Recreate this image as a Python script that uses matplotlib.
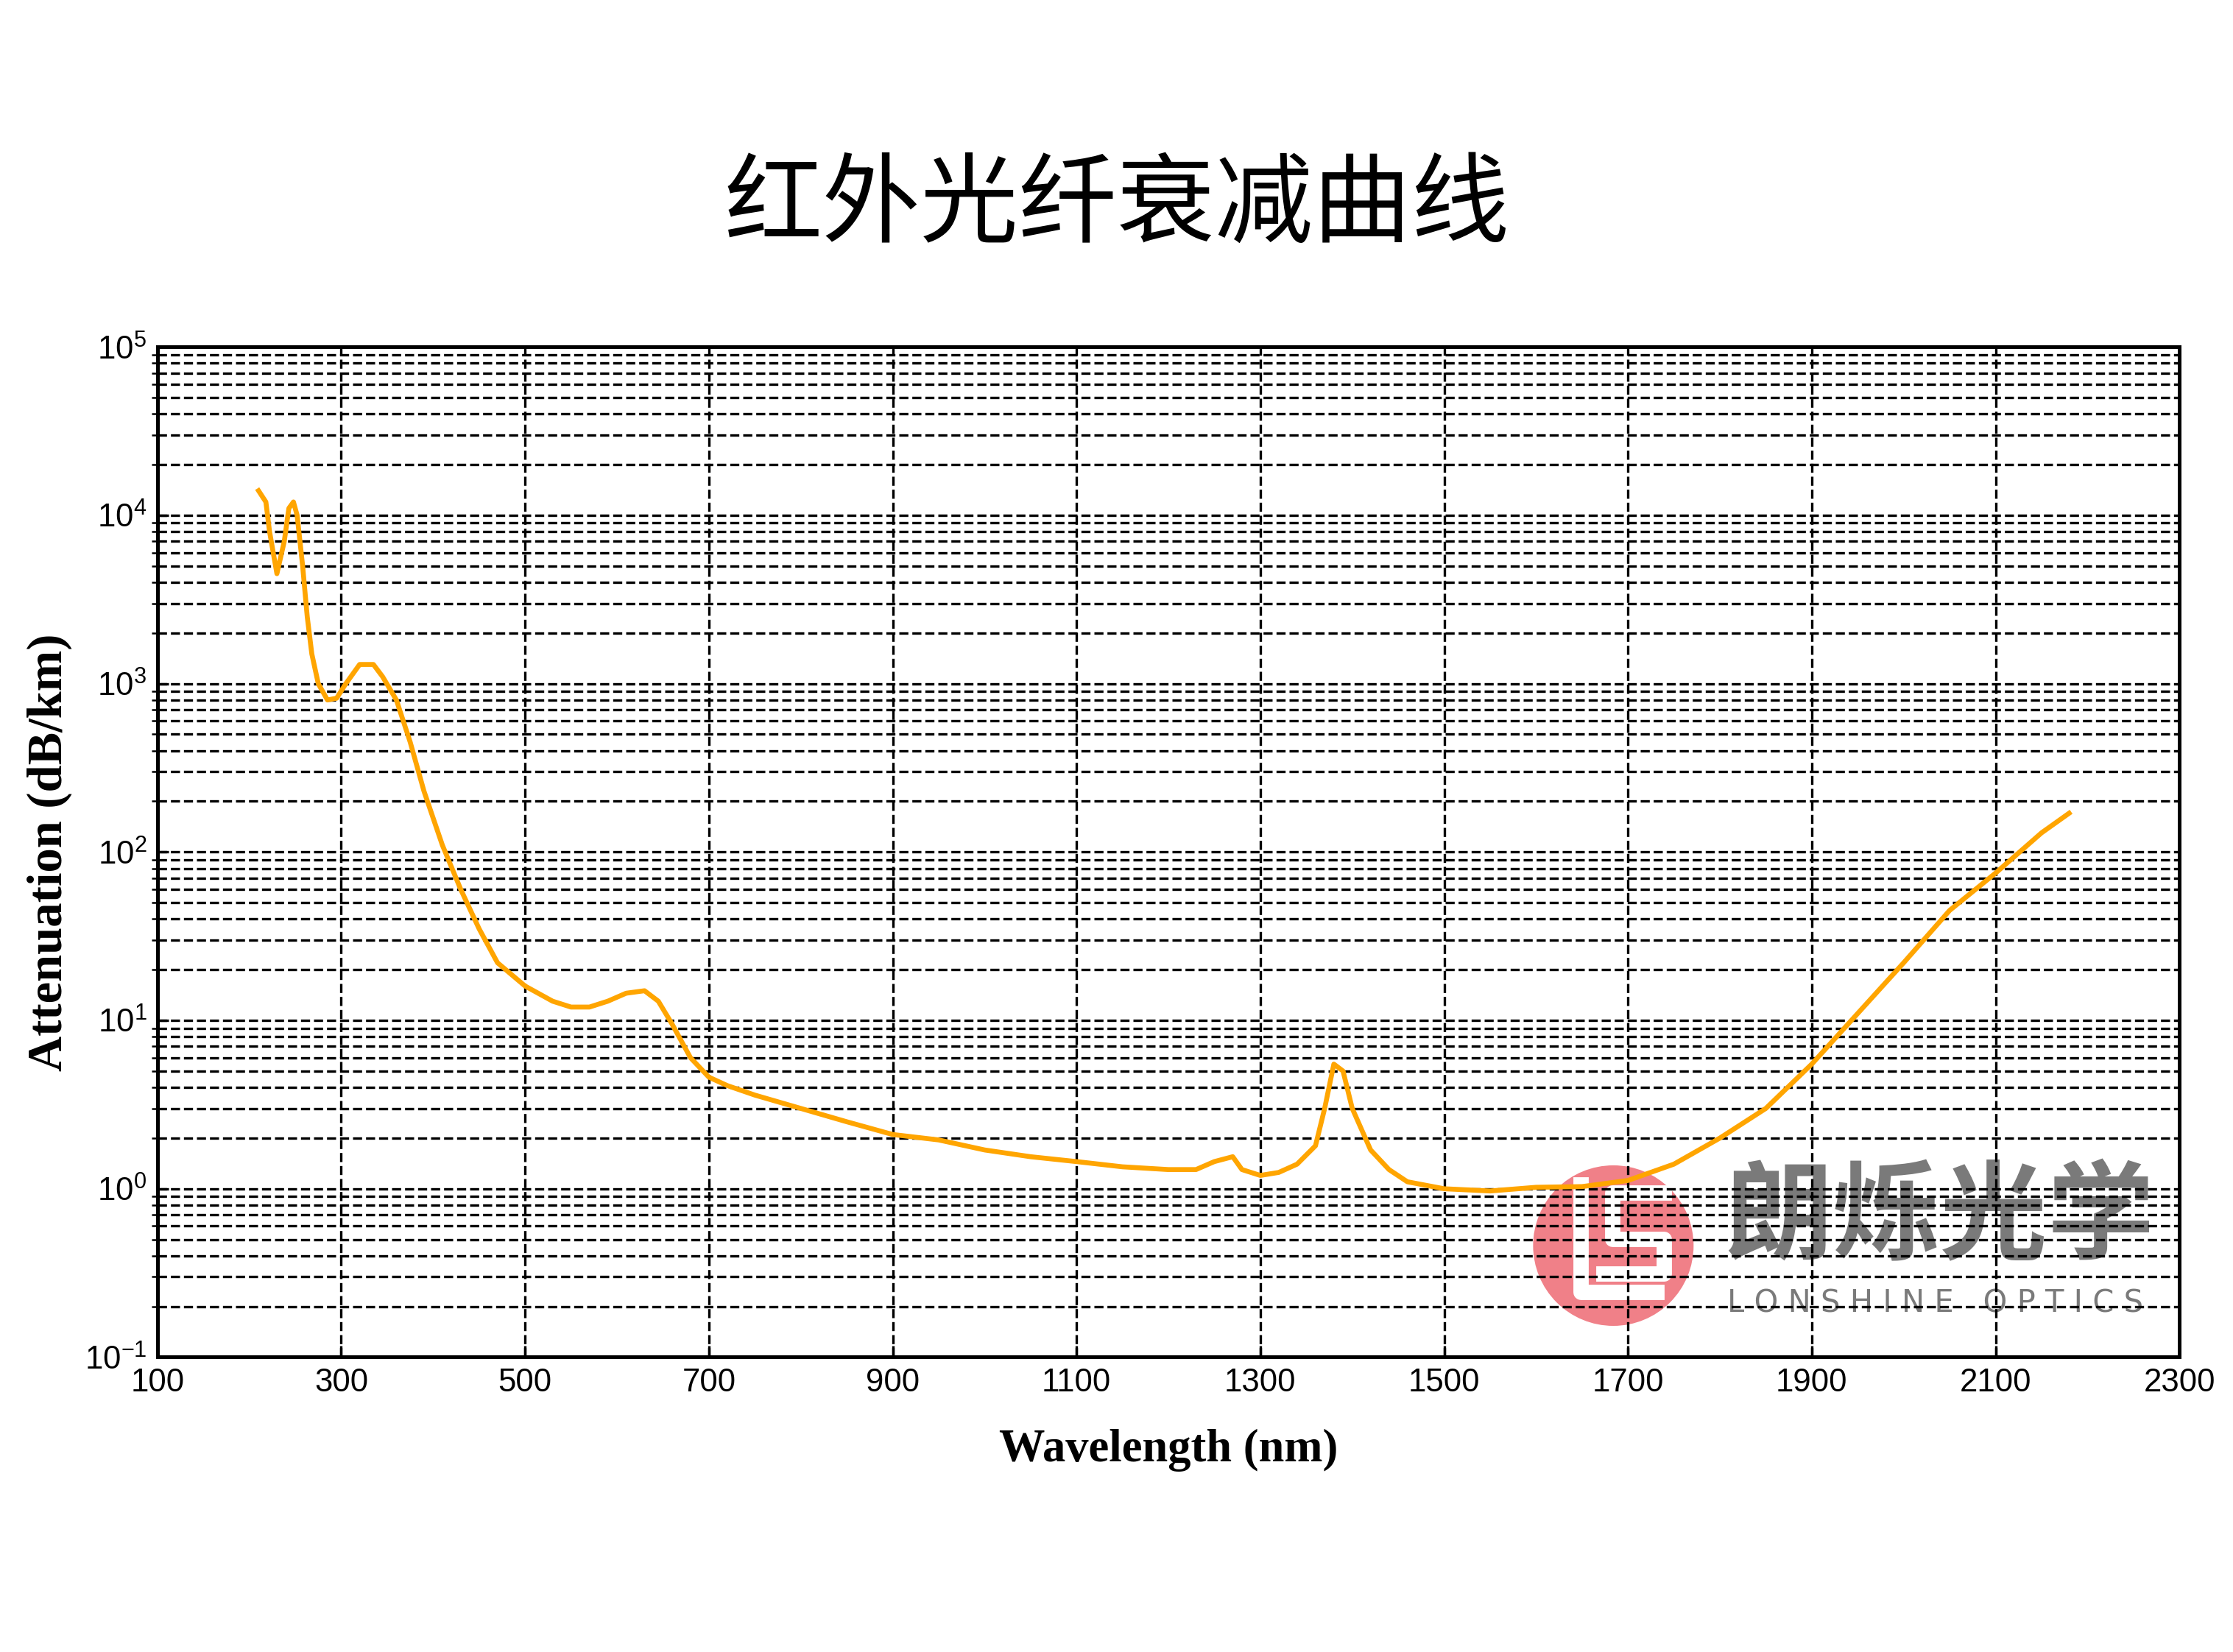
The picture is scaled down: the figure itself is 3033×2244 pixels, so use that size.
import numpy as np
import matplotlib.pyplot as plt
from matplotlib.patches import Ellipse

wavelength = [210, 218, 222, 230, 238, 243, 248, 252, 258, 263, 268, 275, 285, 295, 305, 320,
              335, 345, 360, 375, 390, 410, 430, 450, 470, 500, 530, 550, 570, 590, 610, 630,
              645, 660, 680, 700, 720, 750, 800, 850, 900, 950, 1000, 1050, 1100, 1150, 1200,
              1230, 1250, 1270, 1280, 1300, 1320, 1340, 1360, 1370, 1380, 1390, 1400, 1420,
              1440, 1460, 1500, 1550, 1600, 1650, 1700, 1750, 1800, 1850, 1900, 1950, 2000,
              2050, 2100, 2150, 2180]
attenuation = [14000, 12000, 8000, 4500, 7000, 11000, 12000, 10000, 5000, 2500, 1500, 1000,
               800, 820, 1000, 1300, 1300, 1100, 800, 450, 230, 110, 60, 35, 22, 16, 13, 12,
               12, 13, 14.5, 15, 13, 9.5, 6, 4.6, 4.1, 3.6, 3.0, 2.5, 2.1, 1.95, 1.7, 1.55,
               1.45, 1.35, 1.3, 1.3, 1.45, 1.55, 1.3, 1.2, 1.25, 1.4, 1.8, 3, 5.5, 5, 3, 1.7,
               1.3, 1.1, 1.0, 0.97, 1.02, 1.03, 1.12, 1.4, 2.0, 3.0, 5.5, 11, 22, 45, 75, 130, 170]
xticks = list(range(100, 2301, 200))

fig = plt.figure(figsize=(10.11, 7.48), dpi=300)
fig.text(0.5, 0.875, '红外光纤衰减曲线', ha='center', va='center', fontsize=32,
         family=['Noto Sans CJK SC', 'DejaVu Sans'])

# logo, drawn on the figure under the transparent axes so the grid shows over it
fig.patches.append(Ellipse((0.7225, 0.246), 0.0705, 0.0953, color='#f08088',
                           transform=fig.transFigure, zorder=0))
# rough white "LS" mark inside the circle
fig.lines.append(plt.Line2D([0.708, 0.708, 0.742], [0.283, 0.218, 0.218], color='white',
                            lw=5, transform=fig.transFigure, zorder=0.1))
fig.lines.append(plt.Line2D([0.745, 0.722, 0.722, 0.745, 0.745, 0.718],
                            [0.278, 0.278, 0.250, 0.250, 0.229, 0.229], color='white',
                            lw=5, transform=fig.transFigure, zorder=0.1))
fig.text(0.7725, 0.262, '朗烁光学', fontsize=35, color='#7a7a7a', fontweight='bold',
         va='center', family=['Noto Sans CJK SC', 'DejaVu Sans'], zorder=0)
fig.text(0.7735, 0.211, 'L O N S H I N E   O P T I C S', fontsize=10, color='#7a7a7a',
         va='center', family='DejaVu Sans', zorder=0)

ax = fig.add_axes([0.0705, 0.1785, 0.9055, 0.6115])
ax.set_zorder(1)
ax.set_facecolor('none')
ax.semilogy(wavelength, attenuation, color='#ffa500', lw=1.6)
ax.set_xlim(100, 2300)
ax.set_ylim(0.1, 1e5)
ax.set_xticks(xticks)
ax.grid(True, which='major', ls='--', color='black', lw=0.8)
ax.grid(True, which='minor', axis='y', ls='--', color='black', lw=0.8)
ax.tick_params(labelsize=10.5, direction='in')
for lab in ax.get_xticklabels() + ax.get_yticklabels():
    lab.set_family('Liberation Sans')
ax.set_xlabel('Wavelength (nm)', fontsize=15, fontweight='bold', family='Liberation Serif',
              labelpad=10)
ax.set_ylabel('Attenuation (dB/km)', fontsize=16, fontweight='bold', family='Liberation Serif')
for s in ax.spines.values():
    s.set_linewidth(1.2)

fig.savefig('out.png')
